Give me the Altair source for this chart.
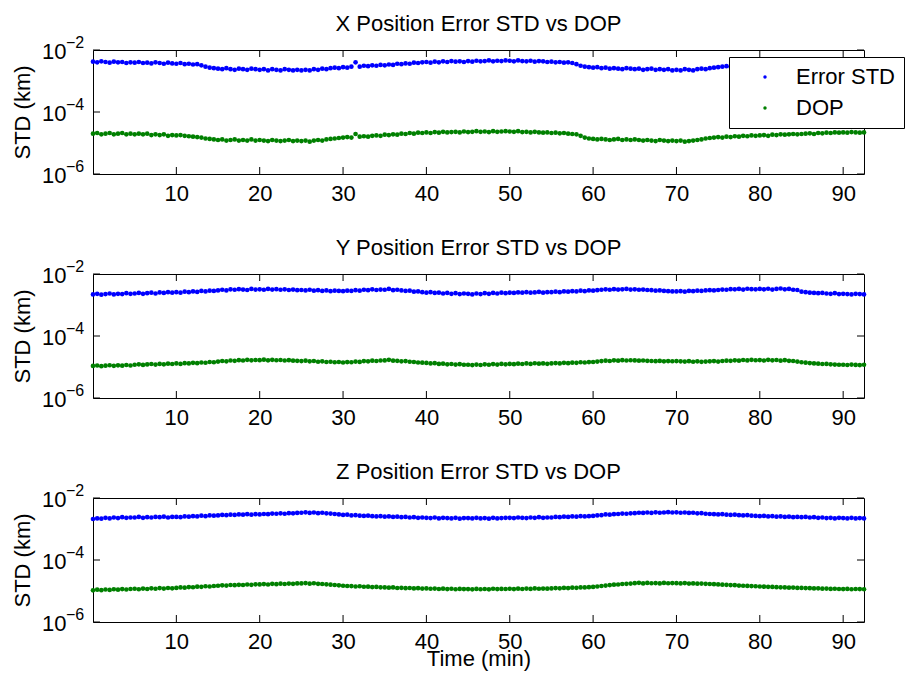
import altair as alt
import pandas as pd

FONT = "Liberation Sans"
FS = 22

time_min = [i * 0.5 for i in range(186)]
ERR_UNIT = 1e-3
DOP_UNIT = 1e-5

x_err = [4.2, 4.0, 4.3, 4.1, 3.9, 4.2, 4.0, 4.1, 3.8, 4.0, 3.9, 4.1, 3.8, 3.9, 3.7, 4.0, 3.8, 3.6, 3.9, 3.7, 3.6, 3.8, 3.5, 3.6, 3.4, 3.5, 3.2, 2.9, 2.7, 2.6, 2.5, 2.4, 2.6, 2.4, 2.3, 2.5, 2.4, 2.3, 2.5, 2.4, 2.3, 2.4, 2.2, 2.4, 2.3, 2.2, 2.4, 2.3, 2.2, 2.3, 2.2, 2.3, 2.2, 2.4, 2.3, 2.5, 2.4, 2.6, 2.7, 2.6, 2.8, 2.7, 2.9, 4.0, 2.9, 3.1, 3.0, 3.2, 3.1, 3.3, 3.2, 3.4, 3.3, 3.6, 3.5, 3.7, 3.6, 3.9, 3.8, 4.0, 4.1, 3.9, 4.2, 4.0, 4.3, 4.1, 4.4, 4.2, 4.3, 4.1, 4.4, 4.2, 4.5, 4.3, 4.4, 4.6, 4.3, 4.5, 4.4, 4.6, 4.5, 4.3, 4.6, 4.4, 4.3, 4.5, 4.2, 4.4, 4.3, 4.1, 4.2, 4.0, 4.1, 3.9, 4.0, 3.8, 3.5, 3.1, 2.9, 2.8, 2.7, 2.8, 2.6, 2.7, 2.5, 2.6, 2.5, 2.4, 2.6, 2.5, 2.4, 2.5, 2.3, 2.4, 2.5, 2.3, 2.4, 2.3, 2.4, 2.2, 2.3, 2.2, 2.4, 2.3, 2.2, 2.4, 2.5, 2.4, 2.6, 2.7, 2.8, 2.9, 3.0, 2.9, 3.1, 3.0, 3.2, 3.1, 3.3, 3.2, 3.3, 3.4, 3.3, 3.5, 3.4, 3.6, 3.5, 3.7, 3.6, 3.8, 3.7, 3.8, 3.6, 3.9, 3.8, 4.0, 3.9, 4.1, 3.8, 4.0, 4.0, 3.9, 4.1, 3.9, 4.0, 4.1]
x_dop = [2.0, 2.1, 1.9, 2.0, 2.1, 1.9, 2.0, 2.1, 1.9, 2.0, 1.9, 2.0, 1.9, 2.0, 1.8, 1.9, 1.8, 1.9, 1.7, 1.8, 1.75, 1.8, 1.7, 1.65, 1.6, 1.55, 1.5, 1.4, 1.35, 1.3, 1.25, 1.3, 1.2, 1.25, 1.3, 1.2, 1.25, 1.2, 1.3, 1.2, 1.25, 1.2, 1.15, 1.25, 1.2, 1.15, 1.2, 1.25, 1.15, 1.2, 1.15, 1.2, 1.1, 1.2, 1.25, 1.2, 1.3, 1.35, 1.4, 1.45, 1.5, 1.55, 1.5, 1.95, 1.6, 1.65, 1.6, 1.7, 1.75, 1.7, 1.85, 1.8, 1.9, 1.85, 2.0, 1.95, 2.1, 2.0, 2.15, 2.1, 2.2, 2.1, 2.25, 2.15, 2.3, 2.2, 2.25, 2.3, 2.2, 2.35, 2.25, 2.3, 2.4, 2.3, 2.35, 2.25, 2.4, 2.3, 2.35, 2.4, 2.35, 2.3, 2.4, 2.25, 2.3, 2.2, 2.3, 2.2, 2.15, 2.2, 2.1, 2.15, 2.05, 2.1, 2.0, 1.95, 1.9, 1.7, 1.5, 1.4, 1.35, 1.3, 1.35, 1.3, 1.25, 1.3, 1.35, 1.25, 1.3, 1.25, 1.3, 1.25, 1.2, 1.25, 1.2, 1.15, 1.25, 1.2, 1.15, 1.2, 1.15, 1.2, 1.1, 1.15, 1.2, 1.25, 1.3, 1.4, 1.45, 1.5, 1.55, 1.5, 1.6, 1.55, 1.65, 1.6, 1.7, 1.65, 1.75, 1.7, 1.75, 1.8, 1.7, 1.85, 1.8, 1.9, 1.85, 1.9, 1.95, 1.9, 1.95, 2.0, 2.05, 1.95, 2.1, 2.05, 2.15, 2.1, 2.2, 2.15, 2.2, 2.15, 2.25, 2.2, 2.15, 2.2]
y_err = [2.2, 2.3, 2.15, 2.25, 2.35, 2.2, 2.3, 2.25, 2.4, 2.3, 2.35, 2.45, 2.3, 2.4, 2.5, 2.35, 2.55, 2.45, 2.6, 2.5, 2.6, 2.5, 2.7, 2.6, 2.75, 2.65, 2.85, 2.75, 2.9, 2.85, 2.95, 3.1, 2.95, 3.2, 3.1, 3.25, 3.15, 3.05, 3.3, 3.15, 3.2, 3.1, 3.3, 3.15, 3.25, 3.1, 3.2, 3.05, 3.15, 3.0, 3.05, 2.95, 3.1, 2.9, 3.0, 2.85, 2.95, 2.8, 2.9, 2.85, 2.8, 2.9, 2.85, 3.0, 2.9, 3.1, 3.0, 3.2, 3.05, 3.15, 3.1, 3.3, 3.0, 3.1, 2.95, 2.85, 2.9, 2.7, 2.75, 2.6, 2.5, 2.6, 2.45, 2.5, 2.35, 2.45, 2.3, 2.4, 2.25, 2.35, 2.3, 2.2, 2.35, 2.25, 2.4, 2.3, 2.45, 2.35, 2.5, 2.4, 2.5, 2.45, 2.55, 2.5, 2.6, 2.5, 2.55, 2.65, 2.5, 2.6, 2.6, 2.7, 2.6, 2.75, 2.7, 2.8, 2.75, 2.9, 2.8, 2.95, 2.9, 3.0, 3.1, 3.2, 3.1, 3.25, 3.15, 3.2, 3.3, 3.15, 3.2, 3.1, 3.15, 3.05, 3.0, 2.9, 2.95, 2.85, 2.8, 2.75, 2.75, 2.8, 2.7, 2.85, 2.8, 2.9, 2.85, 2.95, 3.0, 2.95, 3.05, 3.15, 3.1, 3.25, 3.2, 3.3, 3.15, 3.35, 3.25, 3.2, 3.3, 3.2, 3.35, 3.15, 3.3, 3.4, 3.2, 3.3, 3.1, 3.05, 2.7, 2.6, 2.5, 2.45, 2.4, 2.45, 2.35, 2.3, 2.4, 2.25, 2.3, 2.25, 2.2, 2.3, 2.25, 2.2]
y_dop = [1.08, 1.12, 1.06, 1.1, 1.14, 1.09, 1.13, 1.1, 1.16, 1.12, 1.18, 1.22, 1.17, 1.21, 1.25, 1.2, 1.26, 1.22, 1.28, 1.25, 1.3, 1.26, 1.33, 1.3, 1.36, 1.33, 1.4, 1.37, 1.45, 1.42, 1.5, 1.56, 1.52, 1.62, 1.58, 1.66, 1.62, 1.7, 1.64, 1.68, 1.66, 1.72, 1.64, 1.7, 1.65, 1.68, 1.62, 1.66, 1.6, 1.58, 1.55, 1.6, 1.52, 1.56, 1.48, 1.52, 1.45, 1.48, 1.42, 1.45, 1.4, 1.44, 1.42, 1.5, 1.46, 1.55, 1.52, 1.6, 1.56, 1.62, 1.63, 1.7, 1.6, 1.58, 1.52, 1.55, 1.48, 1.45, 1.4, 1.38, 1.35, 1.3, 1.33, 1.26, 1.28, 1.22, 1.25, 1.2, 1.23, 1.18, 1.18, 1.15, 1.2, 1.16, 1.22, 1.18, 1.24, 1.2, 1.26, 1.22, 1.26, 1.23, 1.28, 1.25, 1.3, 1.26, 1.32, 1.28, 1.3, 1.27, 1.3, 1.34, 1.3, 1.36, 1.33, 1.38, 1.36, 1.42, 1.4, 1.44, 1.45, 1.5, 1.55, 1.6, 1.56, 1.64, 1.6, 1.66, 1.62, 1.65, 1.63, 1.6, 1.62, 1.58, 1.56, 1.54, 1.57, 1.52, 1.55, 1.53, 1.55, 1.52, 1.5, 1.54, 1.48, 1.52, 1.47, 1.5, 1.52, 1.55, 1.5, 1.56, 1.6, 1.58, 1.64, 1.6, 1.68, 1.63, 1.7, 1.65, 1.67, 1.62, 1.7, 1.64, 1.68, 1.6, 1.66, 1.58, 1.56, 1.5, 1.42, 1.38, 1.34, 1.3, 1.28, 1.25, 1.26, 1.22, 1.2, 1.18, 1.18, 1.16, 1.2, 1.17, 1.15, 1.18]
z_err = [2.1, 2.2, 2.15, 2.3, 2.2, 2.35, 2.25, 2.4, 2.3, 2.35, 2.35, 2.45, 2.3, 2.4, 2.35, 2.45, 2.4, 2.5, 2.35, 2.45, 2.45, 2.4, 2.55, 2.5, 2.6, 2.55, 2.7, 2.6, 2.75, 2.7, 2.75, 2.85, 2.8, 2.9, 2.85, 2.95, 2.9, 3.0, 2.9, 3.0, 2.95, 3.05, 3.0, 3.15, 3.1, 3.2, 3.1, 3.25, 3.2, 3.3, 3.35, 3.45, 3.3, 3.4, 3.25, 3.35, 3.2, 3.15, 3.05, 2.95, 2.85, 2.9, 2.75, 2.8, 2.7, 2.65, 2.7, 2.6, 2.55, 2.6, 2.5, 2.55, 2.45, 2.5, 2.4, 2.45, 2.35, 2.4, 2.3, 2.35, 2.3, 2.25, 2.35, 2.2, 2.3, 2.25, 2.2, 2.3, 2.15, 2.25, 2.25, 2.2, 2.3, 2.2, 2.25, 2.15, 2.3, 2.2, 2.25, 2.3, 2.3, 2.25, 2.35, 2.3, 2.25, 2.35, 2.3, 2.4, 2.3, 2.35, 2.35, 2.45, 2.4, 2.5, 2.45, 2.55, 2.5, 2.6, 2.55, 2.6, 2.65, 2.75, 2.8, 2.95, 2.9, 3.0, 3.05, 3.15, 3.1, 3.2, 3.25, 3.35, 3.3, 3.4, 3.3, 3.45, 3.35, 3.4, 3.5, 3.4, 3.45, 3.35, 3.4, 3.3, 3.35, 3.2, 3.25, 3.1, 3.05, 3.0, 2.95, 3.0, 2.9, 2.85, 2.9, 2.8, 2.75, 2.8, 2.7, 2.65, 2.6, 2.65, 2.55, 2.6, 2.5, 2.55, 2.45, 2.5, 2.4, 2.45, 2.4, 2.45, 2.35, 2.4, 2.3, 2.35, 2.25, 2.3, 2.2, 2.3, 2.25, 2.2, 2.3, 2.2, 2.25, 2.2]
z_dop = [1.05, 1.1, 1.06, 1.12, 1.08, 1.14, 1.1, 1.15, 1.12, 1.16, 1.18, 1.14, 1.2, 1.16, 1.22, 1.18, 1.24, 1.2, 1.25, 1.22, 1.26, 1.3, 1.28, 1.34, 1.32, 1.38, 1.36, 1.42, 1.4, 1.45, 1.48, 1.52, 1.5, 1.56, 1.54, 1.58, 1.56, 1.62, 1.58, 1.64, 1.63, 1.67, 1.62, 1.7, 1.66, 1.72, 1.68, 1.74, 1.7, 1.76, 1.75, 1.8, 1.72, 1.78, 1.7, 1.68, 1.64, 1.6, 1.56, 1.52, 1.48, 1.45, 1.44, 1.4, 1.42, 1.37, 1.38, 1.34, 1.35, 1.31, 1.3, 1.28, 1.3, 1.25, 1.27, 1.23, 1.25, 1.21, 1.23, 1.2, 1.21, 1.18, 1.2, 1.16, 1.19, 1.15, 1.18, 1.14, 1.17, 1.15, 1.15, 1.13, 1.17, 1.14, 1.16, 1.13, 1.18, 1.15, 1.17, 1.16, 1.18, 1.15, 1.19, 1.16, 1.2, 1.17, 1.21, 1.18, 1.2, 1.19, 1.21, 1.24, 1.22, 1.26, 1.24, 1.28, 1.27, 1.3, 1.3, 1.33, 1.35, 1.4, 1.45, 1.5, 1.55, 1.6, 1.62, 1.68, 1.7, 1.74, 1.79, 1.84, 1.76, 1.82, 1.78, 1.8, 1.76, 1.82, 1.78, 1.8, 1.79, 1.76, 1.8, 1.74, 1.76, 1.72, 1.74, 1.7, 1.68, 1.66, 1.63, 1.6, 1.58, 1.55, 1.54, 1.5, 1.48, 1.46, 1.44, 1.42, 1.4, 1.38, 1.36, 1.35, 1.33, 1.31, 1.3, 1.28, 1.29, 1.26, 1.26, 1.24, 1.23, 1.21, 1.22, 1.19, 1.2, 1.17, 1.18, 1.16, 1.15, 1.17, 1.14, 1.16, 1.15, 1.14]

panel_titles = [
    "X Position Error STD vs DOP",
    "Y Position Error STD vs DOP",
    "Z Position Error STD vs DOP",
]
series_names = ["Error STD", "DOP"]
series_colors = ["#0000ff", "#008000"]
x_tick_values = [10, 20, 30, 40, 50, 60, 70, 80, 90]
y_tick_values = [1e-6, 1e-4, 1e-2]
y_tick_exponents = ["\u22126", "\u22124", "\u22122"]

W, H = 771, 124
TICK = 7

xscale = alt.Scale(domain=[0, 92.5], nice=False, zero=False)
yscale = alt.Scale(type="log", domain=[1e-6, 1e-2], nice=False)

xtick_df = pd.DataFrame({"tick": x_tick_values})
ytick_df = pd.DataFrame({"yv": y_tick_values, "exp": y_tick_exponents})


def panel(err, dop, title, show_legend, show_xtitle):
    df = pd.DataFrame({
        "t": time_min + time_min,
        "v": [e * ERR_UNIT for e in err] + [d * DOP_UNIT for d in dop],
        "series": ["Error STD"] * len(err) + ["DOP"] * len(dop),
    })
    xa = dict(values=x_tick_values, tickSize=0, domain=False, grid=False,
              labelFont=FONT, labelFontSize=FS, labelColor="black",
              labelPadding=9, labelFlush=False, format="d")
    if show_xtitle:
        xa.update(title="Time (min)", titleFont=FONT, titleFontSize=FS,
                  titleFontWeight="normal", titleColor="black",
                  titleX=W / 2, titleY=43, titleAlign="center",
                  titleBaseline="alphabetic")
    else:
        xa.update(title=None)
    xaxis = alt.Axis(**xa)
    yaxis = alt.Axis(
        values=y_tick_values, labelExpr="'10'", tickSize=0, domain=False,
        grid=False, labelFont=FONT, labelFontSize=FS, labelColor="black",
        labelPadding=27, labelBaseline="middle", labelOffset=1,
        labelOverlap=False,
        title="STD (km)", titleFont=FONT, titleFontSize=FS,
        titleFontWeight="normal", titleColor="black", titleX=-71, titleY=H / 2,
        titleAngle=270, titleAlign="center", titleBaseline="middle",
    )
    if show_legend:
        legend = alt.Legend(
            orient="none", legendX=636, legendY=7, title=None,
            strokeColor="black", fillColor="white", padding=9,
            labelFont=FONT, labelFontSize=FS, labelColor="black",
            symbolSize=12, symbolType="circle", symbolOffset=16,
            labelOffset=20, rowPadding=9, symbolStrokeWidth=0,
        )
    else:
        legend = None
    points = alt.Chart(df).mark_circle(size=22, opacity=1).encode(
        x=alt.X("t:Q", scale=xscale, axis=xaxis),
        y=alt.Y("v:Q", scale=yscale, axis=yaxis),
        color=alt.Color(
            "series:N",
            scale=alt.Scale(domain=series_names, range=series_colors),
            legend=legend,
        ),
    )
    xt_top = alt.Chart(xtick_df).mark_rule(color="black", strokeWidth=1).encode(
        x=alt.X("tick:Q", scale=xscale, axis=xaxis),
        y=alt.value(0), y2=alt.value(TICK))
    xt_bot = alt.Chart(xtick_df).mark_rule(color="black", strokeWidth=1).encode(
        x=alt.X("tick:Q", scale=xscale, axis=xaxis),
        y=alt.value(H), y2=alt.value(H - TICK))
    yt_left = alt.Chart(ytick_df).mark_rule(color="black", strokeWidth=1).encode(
        y=alt.Y("yv:Q", scale=yscale, axis=yaxis),
        x=alt.value(0), x2=alt.value(TICK))
    yt_right = alt.Chart(ytick_df).mark_rule(color="black", strokeWidth=1).encode(
        y=alt.Y("yv:Q", scale=yscale, axis=yaxis),
        x=alt.value(W), x2=alt.value(W - TICK))
    exps = alt.Chart(ytick_df).mark_text(
        align="left", baseline="alphabetic", font=FONT, fontSize=16,
        color="black", dy=-2).encode(
        y=alt.Y("yv:Q", scale=yscale, axis=yaxis),
        x=alt.value(-27), text="exp:N")
    ttl = alt.Chart(pd.DataFrame({"title": [title]})).mark_text(
        align="center", baseline="alphabetic", font=FONT, fontSize=FS,
        color="black").encode(
        x=alt.value(W / 2), y=alt.value(-19), text="title:N")
    return alt.layer(points, xt_top, xt_bot, yt_left, yt_right, exps, ttl).properties(
        width=W, height=H,
    )


p1 = panel(x_err, x_dop, panel_titles[0], True, False)
p2 = panel(y_err, y_dop, panel_titles[1], False, False)
p3 = panel(z_err, z_dop, panel_titles[2], False, True)

chart = alt.vconcat(p1, p2, p3, spacing=100, bounds="flush").resolve_scale(
    color="independent"
).resolve_legend(color="independent").properties(
    padding={"left": 2, "top": 4, "right": 0, "bottom": 2},
    background="white",
).configure_view(stroke="black", strokeWidth=1)

chart.save("out.html", embed_options={"renderer": "svg", "actions": False})
